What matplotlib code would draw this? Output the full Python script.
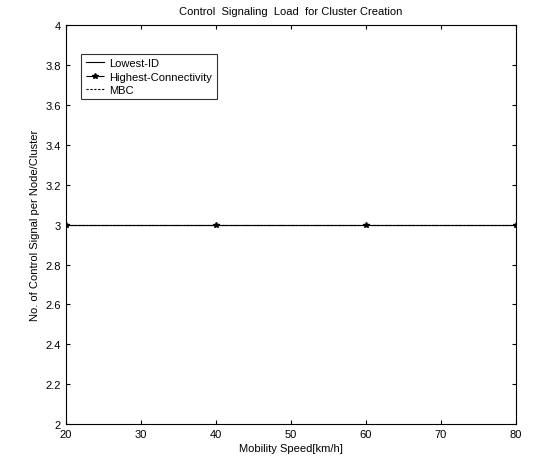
import matplotlib
matplotlib.use('Agg')
import matplotlib.pyplot as plt

plt.rcParams['font.family'] = ['Liberation Sans', 'DejaVu Sans']

# data
speed = [20, 40, 60, 80]
lowest_id = [3, 3, 3, 3]
highest_conn = [3, 3, 3, 3]
mbc = [3, 3, 3, 3]

fig = plt.figure(figsize=(5.38, 4.6), dpi=100)
ax = fig.add_axes([0.1227, 0.076, 0.836, 0.867])

ax.plot(speed, lowest_id, '-', color='black', lw=0.8, label='Lowest-ID')
ax.plot(speed, highest_conn, '-.', color='black', lw=0.8, marker='*', ms=4,
        label='Highest-Connectivity')
ax.plot(speed, mbc, '--', color='black', lw=0.8, dashes=(2, 1.5), label='MBC')

ax.set_xlim(20, 80)
ax.set_ylim(2, 4)
ax.set_xticks(range(20, 81, 10))
ax.set_yticks([2, 2.2, 2.4, 2.6, 2.8, 3, 3.2, 3.4, 3.6, 3.8, 4])
ax.set_yticklabels(['2', '2.2', '2.4', '2.6', '2.8', '3', '3.2', '3.4', '3.6', '3.8', '4'])
ax.tick_params(direction='in', length=3, labelsize=8, top=True, right=True, width=0.8)
for s in ax.spines.values():
    s.set_linewidth(0.8)

ax.set_title('Control  Signaling  Load  for Cluster Creation', fontsize=8, pad=8)
ax.set_xlabel('Mobility Speed[km/h]', fontsize=8, labelpad=3)
ax.set_ylabel('No. of Control Signal per Node/Cluster', fontsize=8, labelpad=4)

leg = ax.legend(loc='upper left', bbox_to_anchor=(0.022, 0.942), fontsize=8,
                frameon=True, fancybox=False, edgecolor='black',
                handlelength=1.6, handletextpad=0.5, borderpad=0.4,
                labelspacing=0.3)
leg.get_frame().set_linewidth(0.8)

fig.savefig('out.png', dpi=100)
